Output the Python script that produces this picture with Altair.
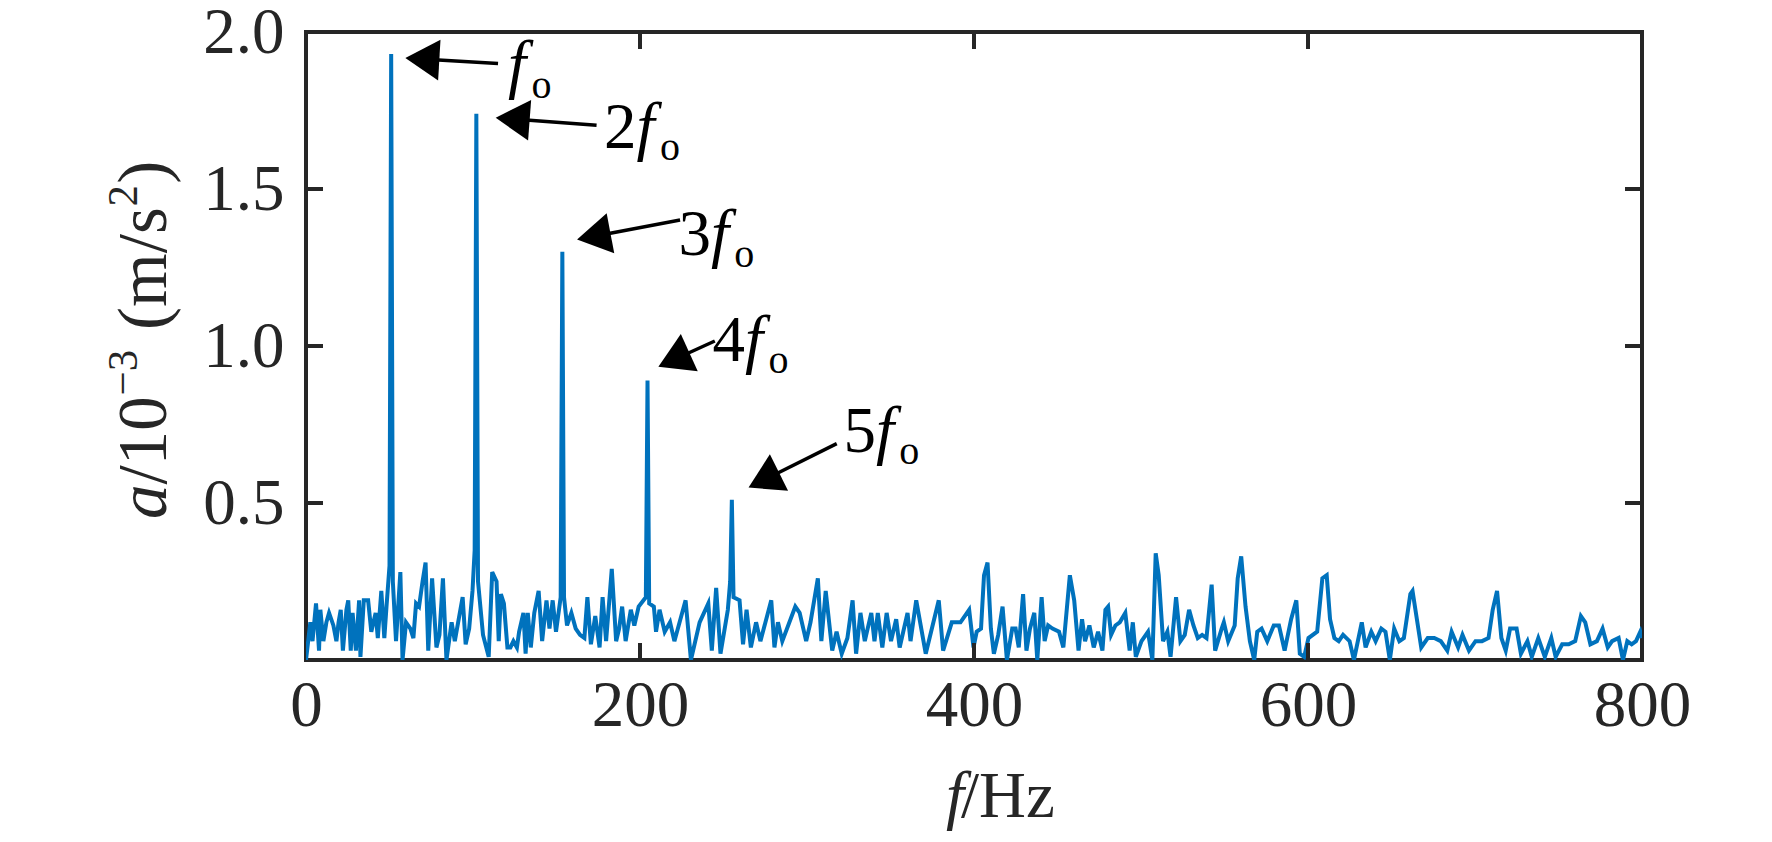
import altair as alt
import numpy as np
import pandas as pd

# spectrum: f in Hz, a in 1e-3 m/s^2
freq = [
    0.0, 2.6, 3.9, 6.0, 7.8, 8.6, 10.4, 12.2, 13.8, 16.4,
    18.2, 19.5, 20.8, 22.1, 24.2, 25.3, 26.8, 27.9, 29.9, 31.8,
    32.6, 34.6, 37.2, 39.1, 41.7, 43.0, 45.1, 46.9, 48.2, 50.0,
    51.0, 52.0, 53.9, 56.5, 57.8, 59.9, 62.5, 64.3, 65.9, 67.7,
    69.8, 71.6, 73.2, 75.5, 78.1, 79.9, 82.0, 84.1, 87.2, 89.1,
    91.1, 93.8, 95.6, 97.7, 99.7, 101.0, 102.0, 103.0, 106.0, 109.4,
    111.5, 114.1, 115.4, 116.7, 118.5, 120.6, 122.4, 124.2, 126.3, 127.6,
    130.2, 131.5, 132.8, 134.6, 136.7, 139.3, 141.4, 144.0, 145.8, 147.7,
    149.7, 152.5, 153.5, 154.5, 156.3, 158.9, 161.5, 164.1, 166.7, 168.5,
    170.6, 173.2, 175.8, 177.6, 179.7, 183.1, 185.7, 187.5, 189.3, 191.4,
    194.5, 196.6, 199.2, 203.5, 204.5, 205.5, 208.3, 209.6, 211.7, 214.8,
    218.0, 220.6, 227.3, 230.5, 235.7, 240.9, 243.0, 245.6, 248.2, 252.6,
    254.0, 255.0, 256.0, 259.6, 261.7, 263.8, 266.4, 269.5, 272.1, 278.6,
    280.5, 282.6, 285.2, 293.0, 295.6, 299.5, 302.1, 306.5, 308.6, 311.2,
    315.1, 317.7, 320.8, 324.2, 327.3, 329.4, 332.0, 334.6, 338.5, 340.4,
    342.4, 345.1, 347.7, 350.3, 353.4, 355.5, 360.2, 362.0, 365.4, 371.1,
    378.9, 381.5, 386.7, 391.9, 397.1, 399.7, 401.6, 404.2, 406.0, 408.1,
    410.1, 411.9, 414.5, 417.1, 419.7, 422.9, 424.9, 426.8, 429.4, 431.4,
    433.5, 436.1, 437.9, 440.5, 442.3, 444.4, 447.0, 450.9, 453.5, 457.4,
    460.0, 462.6, 464.7, 466.5, 469.1, 471.7, 474.3, 476.9, 478.7, 480.3,
    482.1, 484.7, 487.3, 490.6, 493.2, 495.1, 496.9, 500.3, 504.2, 506.8,
    508.8, 510.6, 513.2, 515.8, 517.7, 521.0, 523.6, 526.2, 528.8, 531.4,
    534.0, 536.6, 539.2, 542.3, 544.4, 548.3, 549.6, 552.2, 556.1, 557.9,
    560.0, 562.6, 565.2, 567.8, 569.6, 572.2, 575.6, 579.5, 582.6, 586.0,
    589.9, 593.0, 595.1, 597.7, 600.3, 605.5, 608.6, 611.2, 613.2, 615.8,
    618.4, 621.0, 624.9, 627.5, 632.2, 634.5, 637.9, 640.5, 643.9, 646.4,
    649.0, 651.6, 654.7, 657.4, 661.3, 662.6, 665.2, 667.8, 671.7, 675.6,
    679.5, 683.4, 686.0, 689.9, 692.5, 696.4, 700.3, 704.2, 708.1, 710.6,
    713.2, 715.8, 718.4, 721.0, 724.9, 727.5, 731.4, 734.0, 737.9, 741.8,
    745.7, 748.3, 752.2, 756.1, 760.0, 763.4, 766.0, 769.1, 773.0, 776.4,
    779.5, 782.1, 786.0, 788.6, 791.2, 793.8, 796.4, 799.0, 800.0,
]
amp = [
    0.00, 0.12, 0.06, 0.18, 0.03, 0.16, 0.06, 0.12, 0.15, 0.11,
    0.06, 0.12, 0.16, 0.03, 0.16, 0.19, 0.03, 0.15, 0.03, 0.19,
    0.01, 0.19, 0.19, 0.09, 0.15, 0.07, 0.22, 0.07, 0.17, 0.30,
    1.93, 0.25, 0.06, 0.28, 0.00, 0.12, 0.10, 0.07, 0.18, 0.17,
    0.25, 0.31, 0.03, 0.26, 0.04, 0.08, 0.26, 0.00, 0.12, 0.06,
    0.12, 0.20, 0.05, 0.10, 0.22, 0.35, 1.74, 0.25, 0.08, 0.01,
    0.28, 0.25, 0.06, 0.21, 0.18, 0.04, 0.04, 0.06, 0.04, 0.09,
    0.15, 0.02, 0.15, 0.04, 0.15, 0.22, 0.06, 0.19, 0.10, 0.19,
    0.09, 0.20, 1.30, 0.20, 0.11, 0.15, 0.10, 0.08, 0.07, 0.20,
    0.05, 0.14, 0.04, 0.20, 0.06, 0.29, 0.06, 0.10, 0.17, 0.06,
    0.16, 0.11, 0.17, 0.20, 0.89, 0.18, 0.17, 0.09, 0.16, 0.09,
    0.12, 0.06, 0.19, 0.00, 0.12, 0.18, 0.03, 0.23, 0.02, 0.16,
    0.25, 0.51, 0.20, 0.19, 0.05, 0.16, 0.04, 0.12, 0.06, 0.19,
    0.04, 0.12, 0.06, 0.17, 0.15, 0.06, 0.12, 0.26, 0.06, 0.22,
    0.03, 0.09, 0.02, 0.07, 0.19, 0.02, 0.15, 0.06, 0.15, 0.06,
    0.15, 0.04, 0.15, 0.06, 0.13, 0.04, 0.15, 0.06, 0.19, 0.02,
    0.19, 0.03, 0.12, 0.12, 0.16, 0.04, 0.09, 0.10, 0.27, 0.31,
    0.10, 0.02, 0.08, 0.17, 0.00, 0.10, 0.10, 0.04, 0.21, 0.03,
    0.10, 0.15, 0.00, 0.20, 0.06, 0.11, 0.10, 0.09, 0.04, 0.27,
    0.19, 0.03, 0.13, 0.06, 0.11, 0.04, 0.09, 0.03, 0.16, 0.17,
    0.08, 0.11, 0.12, 0.15, 0.03, 0.12, 0.01, 0.06, 0.09, 0.00,
    0.34, 0.27, 0.06, 0.09, 0.01, 0.20, 0.06, 0.08, 0.16, 0.11,
    0.07, 0.08, 0.07, 0.24, 0.03, 0.10, 0.12, 0.06, 0.11, 0.26,
    0.33, 0.17, 0.06, 0.00, 0.09, 0.10, 0.06, 0.11, 0.11, 0.03,
    0.13, 0.19, 0.02, 0.01, 0.07, 0.09, 0.26, 0.27, 0.13, 0.07,
    0.06, 0.08, 0.06, 0.00, 0.12, 0.04, 0.09, 0.06, 0.10, 0.09,
    0.00, 0.10, 0.06, 0.07, 0.21, 0.22, 0.13, 0.04, 0.07, 0.07,
    0.06, 0.03, 0.09, 0.04, 0.08, 0.03, 0.06, 0.06, 0.07, 0.16,
    0.22, 0.07, 0.03, 0.10, 0.10, 0.02, 0.06, 0.01, 0.07, 0.01,
    0.07, 0.01, 0.05, 0.05, 0.06, 0.14, 0.12, 0.05, 0.06, 0.10,
    0.04, 0.06, 0.07, 0.00, 0.06, 0.05, 0.06, 0.09, 0.07,
]
assert len(freq) == len(amp)

# harmonic markers: arrow tip, arrow tail, label start (baseline)
ann_num = ["", "2", "3", "4", "5"]
tip_f = [59.5, 113.6, 162.3, 211.0, 265.0]
tip_a = [1.917, 1.727, 1.339, 0.934, 0.549]
tail_f = [115.0, 174.0, 224.0, 244.8, 317.8]
tail_a = [1.900, 1.703, 1.401, 1.016, 0.689]
lab_f = [121.0, 178.5, 223.0, 243.4, 321.8]
lab_a = [1.828, 1.630, 1.289, 0.951, 0.664]

x_ticks = [0, 200, 400, 600, 800]
y_ticks = [0.5, 1.0, 1.5, 2.0]

W, H = 1336, 628
FS = 65
SUB = 40
FT = 69  # y title
FONT = "Liberation Serif"
INK = "#262626"
BLUE = "#0072BD"
TICK = 17
HEAD = 34

sx = W / 800
sy = H / 2.0

xs = alt.Scale(domain=[0, 800], nice=False, zero=False)
ys = alt.Scale(domain=[0, 2], nice=False, zero=False)
x_axis = alt.Axis(values=x_ticks, title=None, grid=False, domain=False, ticks=False,
                  tickSize=0, labelPadding=14, labelFlush=False, labelOverlap=False,
                  labelFont=FONT, labelFontSize=FS, labelColor=INK)
y_axis = alt.Axis(values=y_ticks, format=".1f", title=None, grid=False, domain=False,
                  ticks=False, tickSize=0, labelPadding=22, labelFlush=False,
                  labelOverlap=False, labelFont=FONT, labelFontSize=FS, labelColor=INK)


def X(field):
    return alt.X(field, type="quantitative", scale=xs, axis=x_axis)


def Y(field):
    return alt.Y(field, type="quantitative", scale=ys, axis=y_axis)


spec = pd.DataFrame({"f": freq, "a": amp})
line = alt.Chart(spec).mark_line(color=BLUE, strokeWidth=4, clip=True).encode(
    x=X("f"), y=Y("a")
)

# inward ticks on all four sides of the box
xt = pd.DataFrame({"f": x_ticks[1:-1]})
yt = pd.DataFrame({"a": y_ticks[:-1]})
tick_style = dict(color=INK, strokeWidth=4)
ticks = [
    alt.Chart(xt).mark_rule(**tick_style).encode(x=X("f"), y=alt.value(H - TICK), y2=alt.value(H)),
    alt.Chart(xt).mark_rule(**tick_style).encode(x=X("f"), y=alt.value(0), y2=alt.value(TICK)),
    alt.Chart(yt).mark_rule(**tick_style).encode(y=Y("a"), x=alt.value(0), x2=alt.value(TICK)),
    alt.Chart(yt).mark_rule(**tick_style).encode(y=Y("a"), x=alt.value(W - TICK), x2=alt.value(W)),
]

# arrows
ann = pd.DataFrame({"num": ann_num, "tf": tip_f, "ta": tip_a, "bf": tail_f, "ba": tail_a,
                    "lf": lab_f, "la": lab_a})
ddx = (ann["tf"] - ann["bf"]) * sx
ddy = -(ann["ta"] - ann["ba"]) * sy
ann["ang"] = np.degrees(np.arctan2(ddx, -ddy)) % 360
L = np.hypot(ddx, ddy)
ann["ef"] = ann["tf"] - ddx / L * (HEAD * 0.6) / sx
ann["ea"] = ann["ta"] + ddy / L * (HEAD * 0.6) / sy
ann["ff"] = ann["lf"] + np.where(ann["num"] != "", 0.5 * FS, 0.0) / sx
ann["of"] = ann["ff"] + 0.36 * FS / sx
ann["f"] = "f"
ann["o"] = "o"

shaft = alt.Chart(ann).mark_rule(color="black", strokeWidth=3.5).encode(
    x=X("bf"), y=Y("ba"), x2="ef", y2="ea"
)
head = alt.Chart(ann).mark_point(
    shape="M0,0L-0.6,1L0.6,1Z", filled=True, color="black", opacity=1,
    size=(2 * HEAD) ** 2, strokeWidth=0
).encode(x=X("tf"), y=Y("ta"), angle=alt.Angle("ang:Q", scale=None))

txt = dict(font=FONT, color="black", align="left", baseline="alphabetic")
lab_num = alt.Chart(ann).mark_text(fontSize=FS, **txt).encode(x=X("lf"), y=Y("la"), text="num:N")
lab_f_ = alt.Chart(ann).mark_text(fontSize=FS, fontStyle="italic", **txt).encode(
    x=X("ff"), y=Y("la"), text="f:N")
lab_o = alt.Chart(ann).mark_text(fontSize=SUB, dy=12, **txt).encode(
    x=X("of"), y=Y("la"), text="o:N")


def piece(s, px, py, italic=False, size=FS, angle=0, dx=0, dy=0, align="left"):
    kw = dict(font=FONT, fontSize=size, color=INK, align=align, baseline="alphabetic",
              angle=angle, dx=dx, dy=dy)
    if italic:
        kw["fontStyle"] = "italic"
    return alt.Chart(pd.DataFrame({"t": [s]})).mark_text(**kw).encode(
        x=alt.value(px), y=alt.value(py), text="t:N")


# x title: f/Hz
xt_x, xt_y = 655, 785
x_title = [piece("f", xt_x + 3, xt_y, italic=True, align="right"), piece("/Hz", xt_x, xt_y)]

# y title: a/10^-3 (m/s^2), reading upwards
yx, yy = -140, 487
up = -0.42 * FT
sup = round(0.62 * FT)
y_title = [
    piece("a", yx, yy, italic=True, size=FT, angle=270, dx=0),
    piece("/10", yx, yy, size=FT, angle=270, dx=0.5 * FT),
    piece("\u22123", yx, yy, size=sup, angle=270, dx=1.79 * FT, dy=up),
    piece("(m/s", yx, yy, size=FT, angle=270, dx=2.74 * FT),
    piece("2", yx, yy, size=sup, angle=270, dx=4.53 * FT, dy=up),
    piece(")", yx, yy, size=FT, angle=270, dx=4.86 * FT),
]

chart = alt.layer(line, *ticks, shaft, head, lab_num, lab_f_, lab_o, *x_title, *y_title).properties(
    width=W, height=H,
    autosize=alt.AutoSizeParams(type="none"),
    padding={"left": 298, "top": 24, "right": 100, "bottom": 180},
).configure_view(stroke=INK, strokeWidth=4)

chart.save("out.html", embed_options={"renderer": "svg", "actions": False})
